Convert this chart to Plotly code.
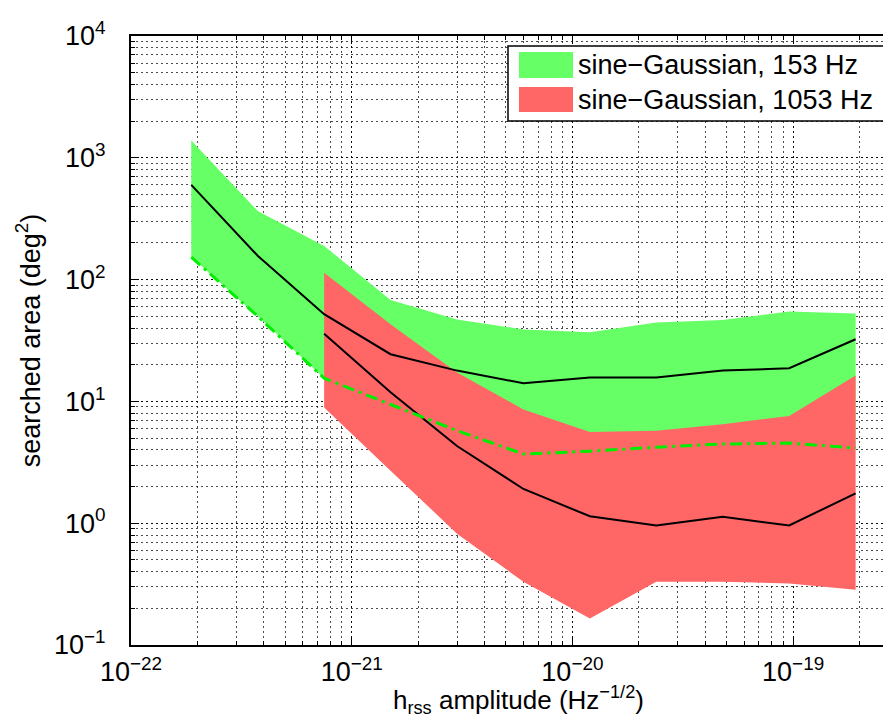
import plotly.graph_objects as go

# ---- data ----
hrss = [1.875e-22, 3.75e-22, 7.5e-22, 1.5e-21, 3e-21, 6e-21,
        1.2e-20, 2.4e-20, 4.8e-20, 9.6e-20, 1.92e-19]

g153_upper = [1390, 366, 189, 68, 47, 39, 37, 44.5, 46.5, 54.6, 52.6]
g153_median = [600, 157, 52, 24.4, 17.9, 14.1, 15.7, 15.7, 17.9, 18.7, 32.4]
g153_lower = [153, 50, 15.5, 9.5, 5.75, 3.7, 3.9, 4.2, 4.47, 4.55, 4.14]

hrss_1053 = [7.5e-22, 1.5e-21, 3e-21, 6e-21, 1.2e-20, 2.4e-20, 4.8e-20, 9.6e-20, 1.92e-19]
g1053_upper = [114, 43, 17.3, 8.6, 5.6, 5.75, 6.5, 7.6, 16.3]
g1053_median = [36, 11.9, 4.3, 1.91, 1.14, 0.957, 1.13, 0.957, 1.76]
g1053_lower = [8.9, 2.7, 0.82, 0.33, 0.165, 0.33, 0.33, 0.32, 0.284]

x_tickvals = [1e-22, 1e-21, 1e-20, 1e-19]
x_ticktext = ["10<sup>\u221222</sup>", "10<sup>\u221221</sup>", "10<sup>\u221220</sup>", "10<sup>\u221219</sup>"]
y_tickvals = [1e-1, 1e0, 1e1, 1e2, 1e3, 1e4]
y_ticktext = ["10<sup>\u22121</sup>", "10<sup>0</sup>", "10<sup>1</sup>", "10<sup>2</sup>", "10<sup>3</sup>", "10<sup>4</sup>"]

legend_labels = ["sine\u2212Gaussian, 153 Hz", "sine\u2212Gaussian, 1053 Hz"]
x_title = "h<sub>rss</sub> amplitude (Hz<sup>\u22121/2</sup>)"
y_title = "searched area (deg<sup>2</sup>)"

GREEN_FILL = "#66FF66"
RED_FILL = "#FF6666"
FONT = "Liberation Sans, Arial, Helvetica, sans-serif"

# ---- layout geometry ----
W, H = 891, 717
L, R, T, B = 123, 0, 28, 80
PW, PH = W - L - R, H - T - B


def px(xp):
    return (xp - L) / PW


def py(yp):
    return (H - B - yp) / PH


fig = go.Figure()

fig.add_trace(go.Scatter(
    x=hrss + hrss[::-1], y=g153_upper + g153_lower[::-1],
    fill="toself", fillcolor=GREEN_FILL, mode="lines", line=dict(width=0),
    name=legend_labels[0], showlegend=False, hoverinfo="skip"))
fig.add_trace(go.Scatter(
    x=hrss_1053 + hrss_1053[::-1], y=g1053_upper + g1053_lower[::-1],
    fill="toself", fillcolor=RED_FILL, mode="lines", line=dict(width=0),
    name=legend_labels[1], showlegend=False, hoverinfo="skip"))
fig.add_trace(go.Scatter(
    x=hrss, y=g153_median, mode="lines", line=dict(color="black", width=2),
    showlegend=False))
fig.add_trace(go.Scatter(
    x=hrss_1053, y=g1053_median, mode="lines", line=dict(color="black", width=2),
    showlegend=False))
fig.add_trace(go.Scatter(
    x=hrss, y=g153_lower, mode="lines",
    line=dict(color="#00EE00", width=3, dash="12px,5px,3px,5px"),
    showlegend=False))

grid = dict(gridcolor="rgba(0,0,0,0.85)", gridwidth=1, griddash="2px,3px")
minor = dict(dtick="D1", showgrid=True, gridcolor="rgba(0,0,0,0.7)", gridwidth=1,
             griddash="2px,3px", ticks="inside", ticklen=4, tickcolor="black")

fig.update_layout(
    width=W, height=H,
    margin=dict(l=L, r=R, t=T, b=B, autoexpand=False),
    paper_bgcolor="white", plot_bgcolor="white",
    font=dict(family=FONT, color="black"),
    showlegend=False,
    xaxis=dict(
        type="log", range=[-22, -22 + PW / 220.7],
        tickvals=x_tickvals, ticktext=x_ticktext,
        tickfont=dict(size=27, family=FONT),
        ticks="inside", ticklen=8, tickcolor="black",
        showline=True, linecolor="black", linewidth=2, mirror="ticks",
        showgrid=True, minor=minor, **grid,
        ticklabelstandoff=2,
        zeroline=False, automargin=False,
    ),
    yaxis=dict(
        type="log", range=[-1, 4],
        tickvals=y_tickvals, ticktext=y_ticktext,
        tickfont=dict(size=27, family=FONT),
        ticks="inside", ticklen=8, tickcolor="black",
        showline=True, linecolor="black", linewidth=2,
        showgrid=True, minor=minor, **grid,
        ticklabelstandoff=18,
        title=dict(text=y_title, font=dict(size=27, family=FONT), standoff=6),
        zeroline=False, automargin=False,
    ),
)

# ---- legend drawn like the reference (large swatches, boxed) ----
shapes = [
    dict(type="rect", xref="paper", yref="paper",
         x0=px(500), x1=px(887), y0=py(113), y1=py(38),
         fillcolor="white", line=dict(color="black", width=1.5), layer="above"),
    dict(type="rect", xref="paper", yref="paper",
         x0=px(511), x1=px(565), y0=py(70), y1=py(44),
         fillcolor=GREEN_FILL, line=dict(width=0), layer="above"),
    dict(type="rect", xref="paper", yref="paper",
         x0=px(511), x1=px(565), y0=py(104), y1=py(79),
         fillcolor=RED_FILL, line=dict(width=0), layer="above"),
]
annotations = [
    dict(xref="paper", yref="paper", x=px(568), y=py(57), text=legend_labels[0],
         showarrow=False, xanchor="left", yanchor="middle",
         font=dict(size=27, family=FONT, color="black")),
    dict(xref="paper", yref="paper", x=px(568), y=py(92), text=legend_labels[1],
         showarrow=False, xanchor="left", yanchor="middle",
         font=dict(size=27, family=FONT, color="black")),
    # x-axis title
    dict(xref="paper", yref="paper", x=px(510), y=py(712), text=x_title,
         showarrow=False, xanchor="center", yanchor="bottom",
         font=dict(size=26, family=FONT, color="black")),
]
fig.update_layout(shapes=shapes, annotations=annotations)

fig.write_html("out.html")
